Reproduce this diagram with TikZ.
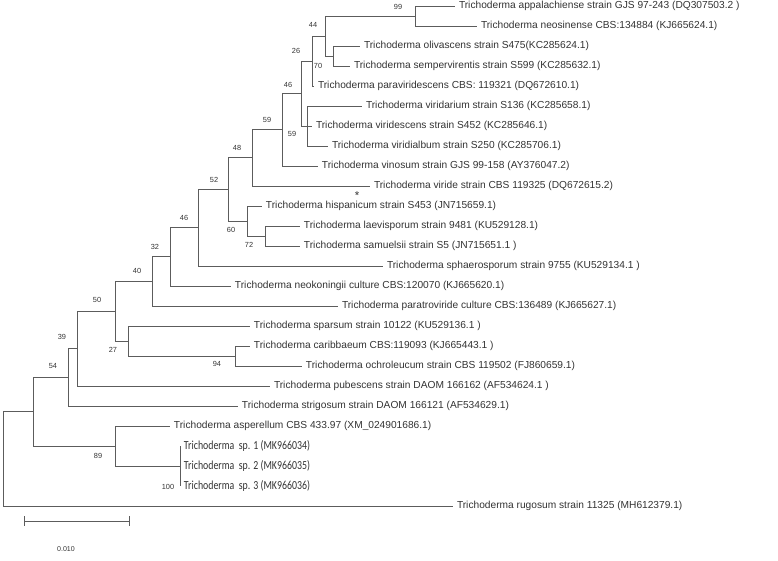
\documentclass[tikz,border=0pt]{standalone}
\usepackage{fontspec}
\setmainfont{Liberation Sans}
\newfontfamily\spfont[FakeStretch=0.8]{Carlito}
\usetikzlibrary{calc}
\definecolor{branchgray}{gray}{0.36}
\definecolor{labelgray}{gray}{0.2}
\tikzset{
  every path/.style={
    branchgray,
    line width=0.55pt
  },
  leaf/.style={
    anchor=west,
    inner xsep=2pt,
    inner ysep=0pt,
    text=labelgray,
    font=\fontsize{5.8}{6.9}\selectfont
  },
  spleaf/.style={
    leaf,
    font=\spfont\fontsize{7}{8}\selectfont
  },
  boot/.style={
    inner sep=0pt,
    text=labelgray,
    font=\fontsize{4.2}{5}\selectfont
  }
}

\begin{document}
\begin{tikzpicture}[x=0.02cm, y=-0.02cm]
    \useasboundingbox (0,0) rectangle (778,561);

    % 葉
    \node[leaf] (appal)    at (455,6)   {Trichoderma appalachiense strain GJS 97-243 (DQ307503.2 )};
    \node[leaf] (neosin)   at (477,26)  {Trichoderma neosinense CBS:134884 (KJ665624.1)};
    \node[leaf] (olivas)   at (360,46)  {Trichoderma olivascens strain S475(KC285624.1)};
    \node[leaf] (semper)   at (350,66)  {Trichoderma sempervirentis strain S599 (KC285632.1)};
    \node[leaf] (paravir)  at (314,86)  {Trichoderma paraviridescens CBS: 119321 (DQ672610.1)};
    \node[leaf] (viridar)  at (362,106) {Trichoderma viridarium strain S136 (KC285658.1)};
    \node[leaf] (viridesc) at (312,126) {Trichoderma viridescens strain S452 (KC285646.1)};
    \node[leaf] (viridalb) at (328,146) {Trichoderma viridialbum strain S250 (KC285706.1)};
    \node[leaf] (vinos)    at (318,166) {Trichoderma vinosum strain GJS 99-158 (AY376047.2)};
    \node[leaf] (viride)   at (370,186) {Trichoderma viride strain CBS 119325 (DQ672615.2)};
    \node[leaf] (hispan)   at (262,206) {Trichoderma hispanicum strain S453 (JN715659.1)};
    \node[leaf] (laevis)   at (300,226) {Trichoderma laevisporum strain 9481 (KU529128.1)};
    \node[leaf] (samuel)   at (300,246) {Trichoderma samuelsii strain S5 (JN715651.1 )};
    \node[leaf] (sphaer)   at (383,266) {Trichoderma sphaerosporum strain 9755 (KU529134.1 )};
    \node[leaf] (neokon)   at (231,286) {Trichoderma neokoningii culture CBS:120070 (KJ665620.1)};
    \node[leaf] (paratro)  at (338,306) {Trichoderma paratroviride culture CBS:136489 (KJ665627.1)};
    \node[leaf] (spars)    at (250,326) {Trichoderma sparsum strain 10122 (KU529136.1 )};
    \node[leaf] (carib)    at (250,346) {Trichoderma caribbaeum CBS:119093 (KJ665443.1 )};
    \node[leaf] (ochro)    at (302,366) {Trichoderma ochroleucum strain CBS 119502 (FJ860659.1)};
    \node[leaf] (pubes)    at (270,386) {Trichoderma pubescens strain DAOM 166162 (AF534624.1 )};
    \node[leaf] (strig)    at (238,406) {Trichoderma strigosum strain DAOM 166121 (AF534629.1)};
    \node[leaf] (asper)    at (170,426) {Trichoderma asperellum CBS 433.97 (XM\_024901686.1)};
    \node[spleaf] (spA)    at (180,446) {Trichoderma\ \ sp. 1 (MK966034)};
    \node[spleaf] (spB)    at (180,466) {Trichoderma\ \ sp. 2 (MK966035)};
    \node[spleaf] (spC)    at (180,486) {Trichoderma\ \ sp. 3 (MK966036)};
    \node[leaf] (rugos)    at (453,506) {Trichoderma rugosum strain 11325 (MH612379.1)};

    % 内部節点
    \coordinate (A) at (415,16);
    \coordinate (B) at (333,56);
    \coordinate (C) at (325,36);
    \coordinate (D) at (312,61);
    \coordinate (F) at (307,126);
    \coordinate (E) at (301,93.5);
    \coordinate (X) at (282,129.8);
    \coordinate (H) at (252,157.9);
    \coordinate (K) at (265,236);
    \coordinate (J) at (247,221);
    \coordinate (I) at (228,189.4);
    \coordinate (L) at (198,227.7);
    \coordinate (M) at (170,256.9);
    \coordinate (N) at (152,281.4);
    \coordinate (Q) at (235,356);
    \coordinate (P) at (128,341);
    \coordinate (O) at (115,311.2);
    \coordinate (R) at (77,348.6);
    \coordinate (S) at (68,377.3);
    \coordinate (V) at (180,466);
    \coordinate (U) at (115,446);
    \coordinate (T) at (33,411.6);
    \coordinate (root) at (3,458.8);

    % 枝
    \draw (A) |- (appal.west);
    \draw (A) |- (neosin.west);
    \draw (B) |- (olivas.west);
    \draw (B) |- (semper.west);
    \draw (C) |- (A);
    \draw (C) |- (B);
    \draw (D) |- (C);
    \draw (D) |- (paravir.west);
    \draw (F) |- (viridar.west);
    \draw (F) |- (viridesc.west);
    \draw (F) |- (viridalb.west);
    \draw (E) |- (D);
    \draw (E) |- (F);
    \draw (X) |- (E);
    \draw (X) |- (vinos.west);
    \draw (H) |- (X);
    \draw (H) |- (viride.west);
    \draw (K) |- (laevis.west);
    \draw (K) |- (samuel.west);
    \draw (J) |- (hispan.west);
    \draw (J) |- (K);
    \draw (I) |- (H);
    \draw (I) |- (J);
    \draw (L) |- (I);
    \draw (L) |- (sphaer.west);
    \draw (M) |- (L);
    \draw (M) |- (neokon.west);
    \draw (N) |- (M);
    \draw (N) |- (paratro.west);
    \draw (Q) |- (carib.west);
    \draw (Q) |- (ochro.west);
    \draw (P) |- (spars.west);
    \draw (P) |- (Q);
    \draw (O) |- (N);
    \draw (O) |- (P);
    \draw (R) |- (O);
    \draw (R) |- (pubes.west);
    \draw (S) |- (R);
    \draw (S) |- (strig.west);
    \draw (V) |- (spA.west);
    \draw (V) |- (spB.west);
    \draw (V) |- (spC.west);
    \draw (U) |- (asper.west);
    \draw (U) |- (V);
    \draw (T) |- (S);
    \draw (T) |- (U);
    \draw (root) |- (T);
    \draw (root) |- (rugos.west);

    % ブートストラップ値
    \node[boot] (bA) at (398,7)   {99};
    \node[boot] (bC) at (313,25)  {44};
    \node[boot] (bD) at (296,51)  {26};
    \node[boot] (bB) at (318,66)  {70};
    \node[boot] (bE) at (288,85)  {46};
    \node[boot] (bX) at (267,120) {59};
    \node[boot] (bF) at (292,134) {59};
    \node[boot] (bH) at (237,148) {48};
    \node[boot] (bI) at (214,180) {52};
    \node[boot] (bJ) at (231,230) {60};
    \node[boot] (bK) at (249,245) {72};
    \node[boot] (bL) at (184,218) {46};
    \node[boot] (bM) at (155,247) {32};
    \node[boot] (bN) at (137,271) {40};
    \node[boot] (bO) at (97,300)  {50};
    \node[boot] (bP) at (113,350) {27};
    \node[boot] (bQ) at (217,364) {94};
    \node[boot] (bR) at (62,337)  {39};
    \node[boot] (bS) at (53,366)  {54};
    \node[boot] (bU) at (98,456)  {89};
    \node[boot] (bV) at (168,487) {100};
    \node[boot, font=\fontsize{6.5}{7}\selectfont] (mark) at (357,196) {*};

    % スケール
    \coordinate (sbL) at (24,521);
    \coordinate (sbR) at (130,521);
    \draw[|-|] (sbL) -- (sbR);
    \node[boot, font=\fontsize{4}{5}\selectfont] (sbtext) at (66,549) {0.010};
\end{tikzpicture}
\end{document}
